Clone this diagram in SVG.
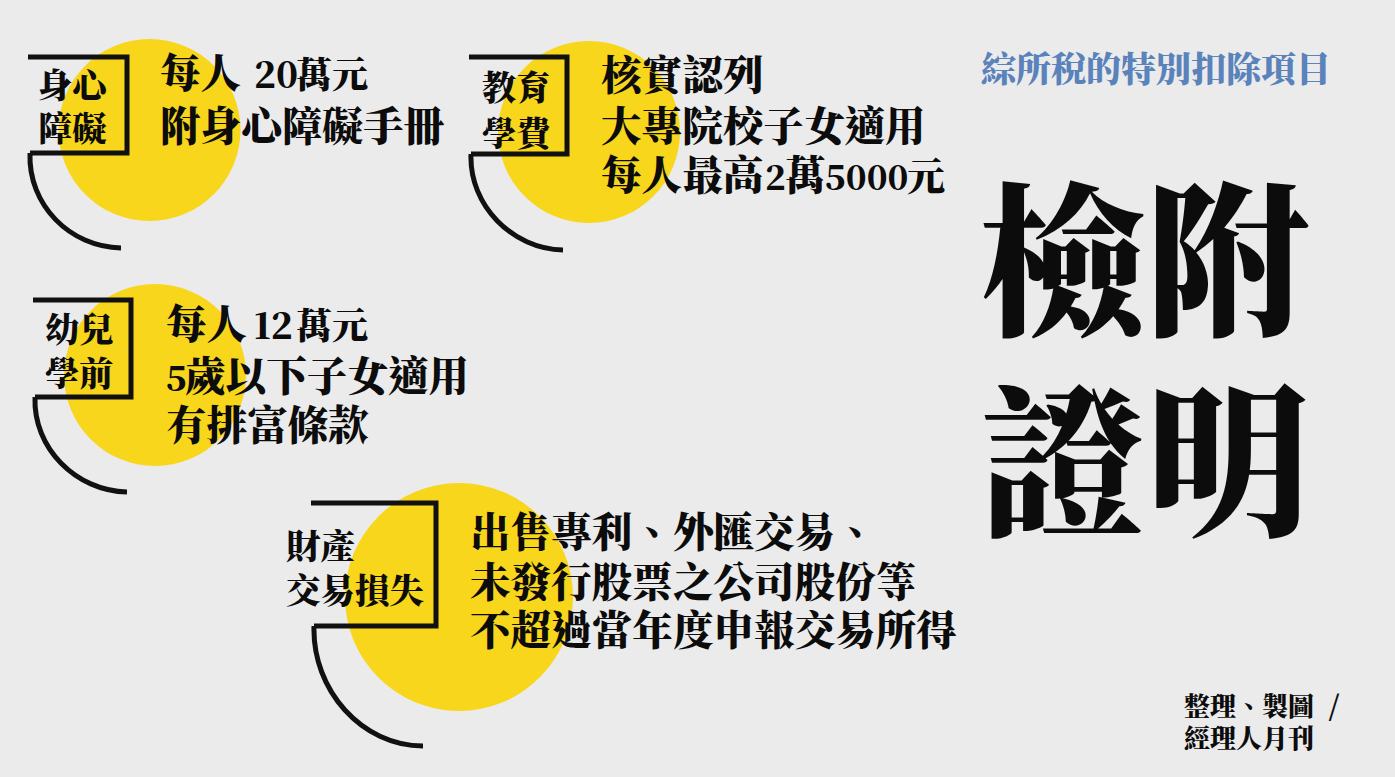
<svg xmlns="http://www.w3.org/2000/svg" width="1395" height="777" viewBox="0 0 1395 777">
<style>
.c{fill:#f8d61c}
.l{fill:none;stroke:#111;stroke-width:5}
text{font-family:"Noto Serif CJK TC","Noto Sans CJK TC",sans-serif;font-weight:900;fill:#0c0c0c}
.m{font-size:40.6px}
.d{font-size:36px}
.s{font-size:34.2px}
</style>
<rect width="1395" height="777" fill="#ebebeb"/>
<g id="n1"><circle class="c" cx="149.500" cy="130" r="91"/><path class="l" d="M28 57H127V153H30M30 153C28 205 70 247 121 248"/><text class="s" x="38" y="98">身心</text><text class="s" x="38" y="141">障礙</text><text class="m" x="160" y="88">每人<tspan class="d" x="254">20</tspan><tspan x="296" font-size="36">萬元</tspan></text><text class="m" x="160" y="141">附身心障礙手冊</text></g>
<g id="n2"><circle class="c" cx="589" cy="132" r="91"/><path class="l" d="M469 57H567V154H471M471 154C469 205 512 249 563 250"/><text class="s" x="482" y="100">教育</text><text class="s" x="482" y="146">學費</text><text class="m" x="601" y="90">核實認列</text><text class="m" x="601" y="141">大專院校子女適用</text><text class="m" x="601" y="190">每人最高<tspan font-size="34" x="765">2</tspan><tspan x="785">萬</tspan><tspan font-size="34" x="825">5000</tspan><tspan font-size="38" x="907">元</tspan></text></g>
<g id="n3"><circle class="c" cx="155" cy="375" r="91"/><path class="l" d="M33 300H131V397H35M35 397C33 448 76 491 127 492"/><text class="s" x="45" y="342">幼兒</text><text class="s" x="45" y="386">學前</text><text class="m" x="166" y="339">每人<tspan class="d" x="254">12</tspan><tspan x="296" font-size="36">萬元</tspan></text><text class="m" x="166" y="391"><tspan font-size="34">5</tspan><tspan x="185">歲以下子女適用</tspan></text><text class="m" x="166" y="440">有排富條款</text></g>
<g id="n4"><circle class="c" cx="459" cy="597" r="114"/><path class="l" d="M311 503H436V626H314M314 626C312 690 362 746 423 746"/><text font-size="34.500" x="286" y="559">財產</text><text font-size="34.500" x="286" y="603">交易損失</text><text class="m" x="470" y="547">出售專利、外匯交易、</text><text class="m" x="470" y="597">未發行股票之公司股份等</text><text class="m" x="470" y="645">不超過當年度申報交易所得</text></g>
<g id="title"><text x="981" y="82" font-size="35" style="fill:#5a82bb">綜所稅的特別扣除項目</text></g>
<g id="big"><text x="980" y="322" font-size="165">檢附</text><text x="980" y="523" font-size="165">證明</text></g>
<g id="credit"><text x="1184" y="716" font-size="26">整理、製圖<tspan x="1328" font-size="28">/</tspan></text><text x="1184" y="748" font-size="26">經理人月刊</text></g>
</svg>
